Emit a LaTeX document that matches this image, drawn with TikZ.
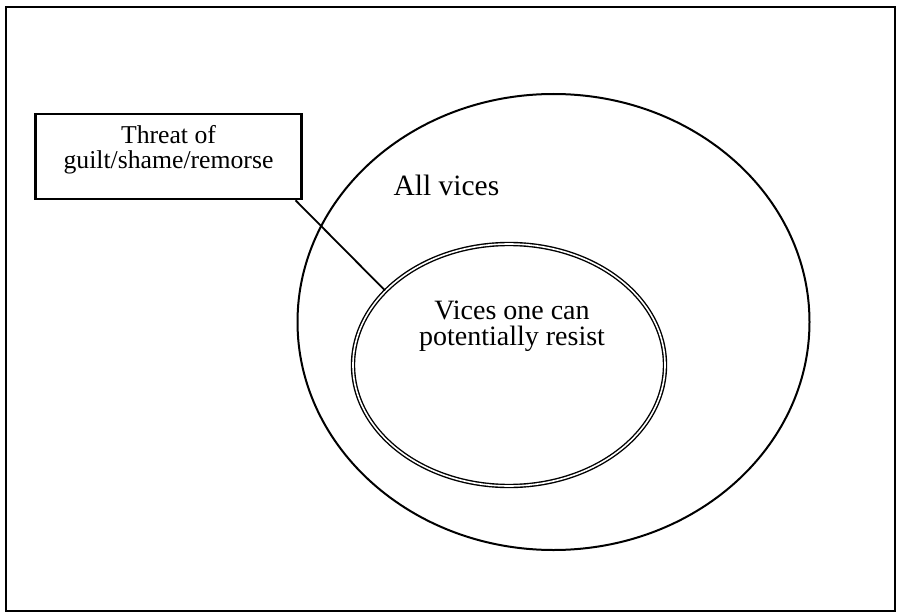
\documentclass[tikz,border=0pt]{standalone}
\usepackage{fontspec}
\setmainfont{Liberation Serif}
\usetikzlibrary{shapes.geometric, positioning, calc}

\begin{document}
\begin{tikzpicture}[x=1pt,y=-1pt,
  threatbox/.style={draw,line width=2.2pt,minimum width=266pt,minimum height=85.5pt,align=center,font=\fontsize{25.7}{25}\selectfont,text depth=19.5pt},
  viceset/.style={draw,ellipse,line width=2pt,inner sep=0pt},
  resistset/.style={draw,ellipse,line width=1.4pt,double,double distance=1.6pt,inner sep=0pt}]

\useasboundingbox (0,0) rectangle (897,615);

% frame
\draw[line width=2.4pt] (6,7) rectangle (895,611);

% sets
\node[viceset,minimum width=512pt,minimum height=456pt] (allvices) at (553.5,322) {};
\node[resistset,minimum width=312pt,minimum height=242pt] (resist) at (509,365) {};

\node[anchor=base west,font=\fontsize{29.5}{30}\selectfont] (allviceslabel) at (390,195) {All vices};
\node[align=center,font=\fontsize{28}{26}\selectfont] (resistlabel) at (512,325.8) {Vices one can\\potentially resist};

% threat
\node[threatbox] (threat) at (168.5,156.5) {Threat of\\guilt/shame/remorse};

\draw[line width=1.8pt] ([xshift=-7pt]threat.south east) -- (resist.149);

\end{tikzpicture}
\end{document}
